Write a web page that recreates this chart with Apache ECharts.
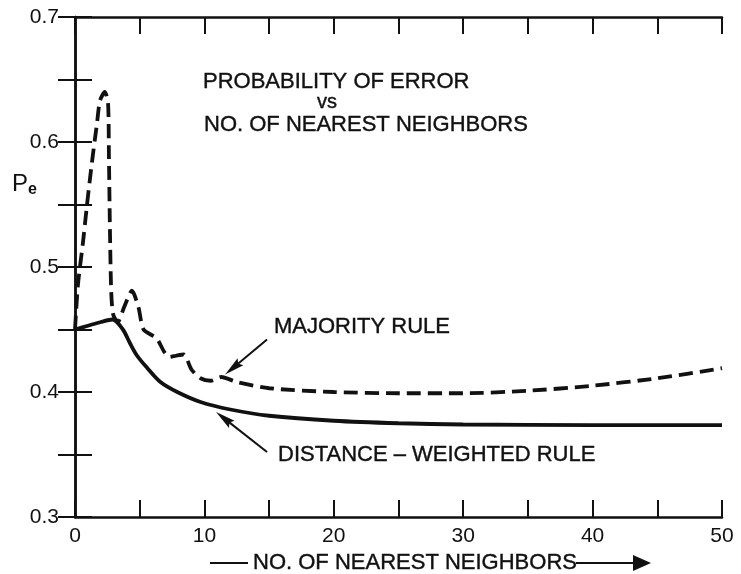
<!DOCTYPE html>
<html>
<head>
<meta charset="utf-8">
<script src="https://cdn.jsdelivr.net/npm/echarts@6/dist/echarts.min.js"></script>
<style>
html,body{margin:0;padding:0;background:#fff;}
#chart{width:741px;height:574px;}
</style>
</head>
<body>
<div id="chart"></div>
<script>
// ---- data ----
const xLabels = [0, 10, 20, 30, 40, 50];
const yLabels = [0.3, 0.4, 0.5, 0.6, 0.7];

const majorityX = [0, 0.23, 0.62, 0.93, 1.3, 1.7, 1.93, 2.3, 2.55, 2.62, 2.7, 2.8, 2.95, 3.3, 3.8, 4.4, 4.9, 5.3, 6.3, 6.9, 7.3, 7.8, 8.4, 9.0, 9.7, 10.5, 11.3, 12.5, 15, 20, 25, 30, 35, 40, 45, 50];
const majorityY = [0.45, 0.486, 0.52, 0.55, 0.583, 0.615, 0.633, 0.64, 0.632, 0.59, 0.53, 0.48, 0.462, 0.456, 0.468, 0.481, 0.468, 0.45, 0.443, 0.432, 0.428, 0.429, 0.43, 0.418, 0.411, 0.409, 0.412, 0.408, 0.403, 0.400, 0.399, 0.399, 0.401, 0.405, 0.411, 0.419];

const distanceX = [0, 1, 2, 2.9, 3.7, 4.25, 4.8, 5.6, 6.6, 7.9, 9.7, 12, 15, 20, 25, 30, 40, 50];
const distanceY = [0.45, 0.453, 0.456, 0.458, 0.45, 0.439, 0.429, 0.419, 0.408, 0.400, 0.392, 0.386, 0.381, 0.377, 0.375, 0.374, 0.3735, 0.3735];

const titleLines = ['PROBABILITY OF ERROR', 'vs', 'NO. OF NEAREST NEIGHBORS'];
const majorityLabel = 'MAJORITY RULE';
const distanceLabel = 'DISTANCE – WEIGHTED RULE';
const xAxisName = 'NO. OF NEAREST NEIGHBORS';

// annotation arrows: [tailX, tailY, tipX, tipY] in data units
const majorityArrow = [14.84, 0.442, 11.6, 0.414];
const distanceArrow = [14.84, 0.352, 10.9, 0.384];

const majorityData = majorityX.map((x, i) => [x, majorityY[i]]);
const distanceData = distanceX.map((x, i) => [x, distanceY[i]]);

const FONT = "'Liberation Sans', Arial, sans-serif";
const INK = '#111';

const chart = echarts.init(document.getElementById('chart'), null, {renderer: 'canvas'});

const axisLine = {show: true, lineStyle: {color: INK, width: 2.5}};
const tickStyle = {show: true, inside: true, length: 17, lineStyle: {color: INK, width: 2}};

chart.setOption({
  animation: false,
  backgroundColor: '#fff',
  grid: {left: 75, right: 19, top: 17, bottom: 57},
  xAxis: [
    {type: 'value', min: 0, max: 50, interval: 5, position: 'bottom',
     axisLine: axisLine, axisTick: tickStyle, splitLine: {show: false},
     axisLabel: {show: true, margin: 9, color: INK, fontFamily: FONT, fontSize: 21,
       formatter: v => xLabels.indexOf(v) >= 0 ? String(v) : ''}},
    {type: 'value', min: 0, max: 50, interval: 5, position: 'top',
     axisLine: axisLine, axisTick: tickStyle, splitLine: {show: false}, axisLabel: {show: false}}
  ],
  yAxis: [
    {type: 'value', min: 0.3, max: 0.7, interval: 0.05, position: 'left',
     axisLine: axisLine, axisTick: tickStyle, splitLine: {show: false},
     axisLabel: {show: true, margin: 16, color: INK, fontFamily: FONT, fontSize: 21,
       formatter: v => yLabels.some(l => Math.abs(l - v) < 1e-6) ? v.toFixed(1) : ''}},
    {type: 'value', min: 0.3, max: 0.7, interval: 0.05, position: 'right',
     axisLine: axisLine, axisTick: tickStyle, splitLine: {show: false}, axisLabel: {show: false}}
  ],
  series: [
    {name: 'Majority rule', type: 'line', data: majorityData, showSymbol: false, smooth: 0.25,
     lineStyle: {color: INK, width: 3.8, type: [14, 7], cap: 'butt'}},
    {name: 'Distance-weighted rule', type: 'line', data: distanceData, showSymbol: false, smooth: 0.3,
     lineStyle: {color: INK, width: 3.8}}
  ]
});

function arrowGraphics(a) {
  const s = chart.convertToPixel({gridIndex: 0}, [a[0], a[1]]);
  const t = chart.convertToPixel({gridIndex: 0}, [a[2], a[3]]);
  const dx = t[0] - s[0], dy = t[1] - s[1];
  const len = Math.hypot(dx, dy);
  const ux = dx / len, uy = dy / len, nx = -uy, ny = ux;
  const L = 20, W = 4.5;
  return [
    {type: 'line', shape: {x1: s[0], y1: s[1], x2: t[0] - ux * L * 0.8, y2: t[1] - uy * L * 0.8},
     style: {stroke: INK, lineWidth: 2}},
    {type: 'polygon', shape: {points: [[t[0], t[1]],
      [t[0] - ux * L + nx * W, t[1] - uy * L + ny * W],
      [t[0] - ux * L * 0.85, t[1] - uy * L * 0.85],
      [t[0] - ux * L - nx * W, t[1] - uy * L - ny * W]]},
     style: {fill: INK}}
  ];
}

const txt = (x, y, text, size, align) => ({type: 'text', x: x, y: y,
  style: {text: text, fill: INK, font: size + 'px ' + FONT, textAlign: align || 'left', textVerticalAlign: 'middle',
          stroke: INK, lineWidth: 0.4}});

const g = [];
g.push(txt(203, 82, titleLines[0], 22));
g.push(txt(327, 102, titleLines[1], 20, 'center'));
g.push(txt(204, 125, titleLines[2], 22));
g.push(txt(274, 327, majorityLabel, 22));
g.push(txt(278, 455, distanceLabel, 22));
// P_e axis label
g.push({type: 'text', x: 12, y: 184, style: {
  text: '{p|P}{e|e}', textVerticalAlign: 'middle',
  rich: {p: {fontSize: 24, fontFamily: FONT, fill: INK},
         e: {fontSize: 16, fontFamily: FONT, fill: INK, fontWeight: 'bold', padding: [12, 0, 0, 0]}}}});
// x axis name with arrows
g.push({type: 'line', shape: {x1: 210, y1: 563, x2: 248, y2: 563}, style: {stroke: INK, lineWidth: 2}});
g.push(txt(415, 563, xAxisName, 22, 'center'));
g.push({type: 'line', shape: {x1: 576, y1: 563, x2: 636, y2: 563}, style: {stroke: INK, lineWidth: 2}});
g.push({type: 'polygon', shape: {points: [[651, 563], [633, 555], [633, 571]]}, style: {fill: INK}});
arrowGraphics(majorityArrow).forEach(e => g.push(e));
arrowGraphics(distanceArrow).forEach(e => g.push(e));

chart.setOption({graphic: g});
</script>
</body>
</html>
